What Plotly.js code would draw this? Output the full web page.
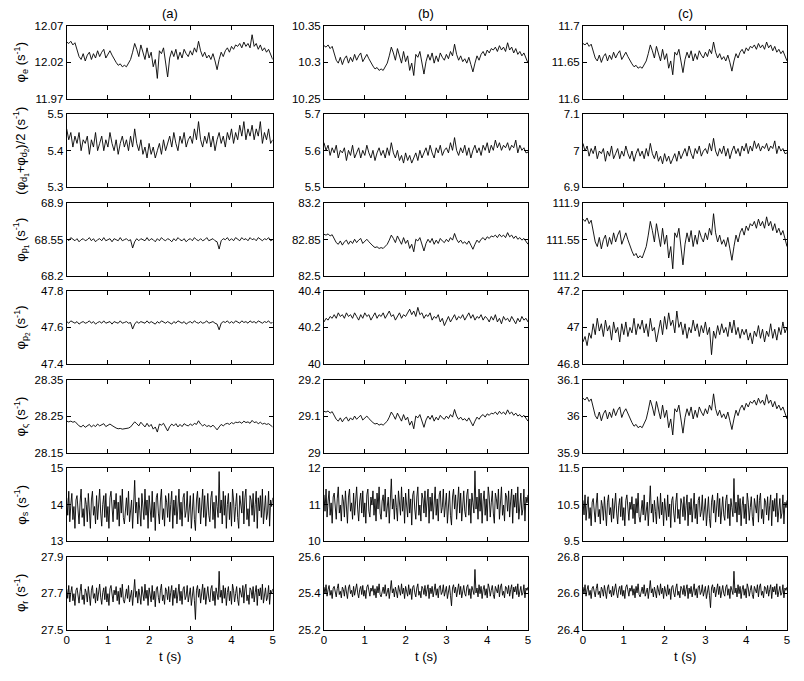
<!DOCTYPE html>
<html><head><meta charset="utf-8">
<script src="https://cdn.plot.ly/plotly-3.0.1.min.js"></script>
<style>html,body{margin:0;padding:0;background:#fff;}#chart{width:804px;height:681px;}</style>
</head><body><div id="chart"></div>
<script>
const xTickVals = [0,1,2,3,4,5];
const columnTitles = ['(a)','(b)','(c)'];
const rowLabels = [
  'φ<sub>e</sub> (s<sup>-1</sup>)',
  '(φ<sub>d<sub>1</sub></sub>+φ<sub>d<sub>2</sub></sub>)/2 (s<sup>-1</sup>)',
  'φ<sub>p<sub>1</sub></sub> (s<sup>-1</sup>)',
  'φ<sub>p<sub>2</sub></sub> (s<sup>-1</sup>)',
  'φ<sub>ς</sub> (s<sup>-1</sup>)',
  'φ<sub>s</sub> (s<sup>-1</sup>)',
  'φ<sub>r</sub> (s<sup>-1</sup>)'
];
const yTickLabels = [
  [['11.97','12.02','12.07'],['10.25','10.3','10.35'],['11.6','11.65','11.7']],
  [['5.3','5.4','5.5'],['5.5','5.6','5.7'],['6.9','7','7.1']],
  [['68.2','68.55','68.9'],['82.5','82.85','83.2'],['111.2','111.55','111.9']],
  [['47.4','47.6','47.8'],['40','40.2','40.4'],['46.8','47','47.2']],
  [['28.15','28.25','28.35'],['29','29.1','29.2'],['35.9','36','36.1']],
  [['13','14','15'],['10','11','12'],['9.5','10.5','11.5']],
  [['27.5','27.7','27.9'],['25.2','25.4','25.6'],['26.4','26.6','26.8']]
];

const phiE_a = [12.048,12.046,12.049,12.044,12.047,12.036,12.028,12.024,12.032,12.022,
12.030,12.034,12.024,12.032,12.026,12.036,12.028,12.034,12.038,12.026,
12.032,12.036,12.030,12.024,12.020,12.016,12.018,12.014,12.016,12.014,
12.020,12.024,12.034,12.046,12.038,12.028,12.044,12.032,12.024,12.040,
12.026,12.034,12.014,12.024,11.998,12.036,12.032,12.040,12.022,12.000,
12.026,12.036,12.028,12.038,12.024,12.034,12.026,12.038,12.032,12.028,
12.036,12.030,12.040,12.034,12.049,12.036,12.028,12.034,12.026,12.030,
12.024,12.032,12.022,12.010,12.024,12.034,12.028,12.036,12.040,12.034,
12.042,12.038,12.044,12.042,12.046,12.040,12.048,12.042,12.046,12.040,
12.058,12.042,12.046,12.038,12.044,12.036,12.040,12.034,12.038,12.030,12.024];
const phiE_b = [10.323,10.321,10.324,10.319,10.322,10.311,10.303,10.299,10.307,10.297,
10.305,10.309,10.299,10.307,10.301,10.311,10.303,10.309,10.313,10.301,
10.307,10.311,10.305,10.299,10.295,10.291,10.293,10.289,10.291,10.289,
10.295,10.299,10.309,10.321,10.313,10.303,10.319,10.307,10.299,10.315,
10.301,10.309,10.289,10.299,10.282,10.311,10.307,10.315,10.297,10.284,
10.301,10.311,10.303,10.313,10.299,10.309,10.301,10.313,10.307,10.303,
10.311,10.305,10.315,10.309,10.325,10.311,10.303,10.309,10.301,10.305,
10.299,10.307,10.297,10.287,10.299,10.309,10.303,10.311,10.315,10.309,
10.317,10.313,10.319,10.317,10.321,10.315,10.323,10.317,10.321,10.315,
10.327,10.317,10.321,10.313,10.319,10.311,10.315,10.309,10.313,10.305,10.299];
const phiE_c = [11.676,11.674,11.677,11.672,11.675,11.664,11.656,11.652,11.660,11.650,
11.658,11.662,11.652,11.660,11.654,11.664,11.656,11.662,11.666,11.654,
11.660,11.664,11.658,11.652,11.648,11.644,11.646,11.642,11.644,11.642,
11.648,11.652,11.662,11.674,11.666,11.656,11.672,11.660,11.652,11.668,
11.654,11.662,11.642,11.652,11.633,11.664,11.660,11.668,11.650,11.636,
11.654,11.664,11.656,11.666,11.652,11.662,11.654,11.666,11.660,11.656,
11.664,11.658,11.668,11.662,11.678,11.664,11.656,11.662,11.654,11.658,
11.652,11.660,11.650,11.638,11.652,11.662,11.656,11.664,11.668,11.662,
11.670,11.666,11.672,11.670,11.674,11.668,11.676,11.670,11.674,11.668,
11.678,11.670,11.674,11.666,11.672,11.664,11.668,11.662,11.666,11.658,11.652];

const phiD_a = [5.46,5.43,5.45,5.41,5.44,5.42,5.45,5.40,5.43,5.42,
5.44,5.39,5.43,5.41,5.45,5.40,5.42,5.44,5.40,5.43,
5.41,5.45,5.42,5.40,5.43,5.39,5.42,5.44,5.41,5.43,
5.40,5.44,5.41,5.46,5.42,5.40,5.43,5.39,5.41,5.38,
5.42,5.39,5.41,5.38,5.40,5.42,5.39,5.43,5.40,5.42,
5.44,5.41,5.45,5.42,5.40,5.44,5.42,5.45,5.41,5.43,
5.44,5.42,5.46,5.43,5.48,5.43,5.41,5.44,5.42,5.45,
5.41,5.44,5.40,5.43,5.45,5.42,5.44,5.41,5.45,5.43,
5.46,5.42,5.45,5.43,5.47,5.44,5.48,5.43,5.46,5.44,
5.47,5.43,5.46,5.44,5.48,5.42,5.45,5.43,5.46,5.42,5.43];
const phiD_b = [5.622,5.601,5.615,5.587,5.608,5.594,5.615,5.580,5.601,5.594,
5.608,5.573,5.601,5.587,5.615,5.580,5.594,5.608,5.580,5.601,
5.587,5.615,5.594,5.580,5.601,5.573,5.594,5.608,5.587,5.601,
5.580,5.608,5.587,5.622,5.594,5.580,5.601,5.573,5.587,5.566,
5.594,5.573,5.587,5.566,5.580,5.594,5.573,5.601,5.580,5.594,
5.608,5.587,5.615,5.594,5.580,5.608,5.594,5.615,5.587,5.601,
5.608,5.594,5.622,5.601,5.636,5.601,5.587,5.608,5.594,5.615,
5.587,5.608,5.580,5.601,5.615,5.594,5.608,5.587,5.615,5.601,
5.622,5.594,5.615,5.601,5.629,5.608,5.622,5.601,5.615,5.608,
5.622,5.601,5.615,5.608,5.629,5.594,5.615,5.601,5.608,5.594,5.596];
const phiD_c = [7.020,6.999,7.013,6.985,7.006,6.992,7.013,6.978,6.999,6.992,
7.006,6.971,6.999,6.985,7.013,6.978,6.992,7.006,6.978,6.999,
6.985,7.013,6.992,6.978,6.999,6.971,6.992,7.006,6.985,6.999,
6.978,7.006,6.985,7.020,6.992,6.978,6.999,6.971,6.985,6.964,
6.992,6.971,6.985,6.964,6.978,6.992,6.971,6.999,6.978,6.992,
7.006,6.985,7.013,6.992,6.978,7.006,6.992,7.013,6.985,6.999,
7.006,6.992,7.020,6.999,7.034,6.999,6.985,7.006,6.992,7.013,
6.985,7.006,6.978,6.999,7.013,6.992,7.006,6.985,7.013,6.999,
7.020,6.992,7.013,6.999,7.027,7.006,7.020,6.999,7.013,7.006,
7.020,6.999,7.013,7.006,7.027,6.992,7.013,6.999,7.006,6.992,6.994];

const phiP1_a = [68.56,68.54,68.57,68.55,68.54,68.56,68.53,68.55,68.56,68.54,
68.55,68.57,68.54,68.56,68.53,68.55,68.56,68.54,68.57,68.54,
68.55,68.56,68.53,68.56,68.55,68.54,68.57,68.54,68.55,68.56,
68.54,68.55,68.47,68.53,68.56,68.54,68.56,68.55,68.54,68.57,
68.54,68.56,68.55,68.53,68.56,68.54,68.57,68.55,68.54,68.56,
68.55,68.53,68.56,68.54,68.57,68.55,68.54,68.56,68.53,68.55,
68.56,68.54,68.57,68.55,68.54,68.56,68.54,68.55,68.57,68.54,
68.55,68.56,68.54,68.53,68.46,68.54,68.56,68.55,68.57,68.54,
68.56,68.54,68.57,68.55,68.54,68.57,68.55,68.56,68.54,68.57,
68.55,68.56,68.54,68.57,68.55,68.54,68.56,68.55,68.57,68.54,68.55];
const phiP1_b = [82.902,82.894,82.906,82.886,82.898,82.854,82.822,82.806,82.838,82.798,
82.830,82.846,82.806,82.838,82.814,82.854,82.822,82.846,82.862,82.814,
82.838,82.854,82.830,82.806,82.790,82.774,82.782,82.766,82.774,82.766,
82.790,82.806,82.846,82.894,82.862,82.822,82.886,82.838,82.806,82.870,
82.814,82.846,82.766,82.806,82.734,82.854,82.838,82.870,82.798,82.742,
82.814,82.854,82.822,82.862,82.806,82.846,82.814,82.862,82.838,82.822,
82.854,82.830,82.870,82.846,82.910,82.854,82.822,82.846,82.814,82.830,
82.806,82.838,82.798,82.758,82.806,82.846,82.822,82.854,82.870,82.846,
82.878,82.862,82.886,82.878,82.894,82.870,82.902,82.878,82.894,82.870,
82.918,82.878,82.894,82.862,82.886,82.854,82.870,82.846,82.862,82.830,82.806];
const phiP1_c = [111.748,111.726,111.759,111.704,111.737,111.616,111.528,111.484,111.572,111.462,
111.550,111.594,111.484,111.572,111.506,111.616,111.528,111.594,111.638,111.506,
111.572,111.616,111.550,111.484,111.440,111.396,111.418,111.374,111.396,111.374,
111.440,111.484,111.594,111.726,111.638,111.528,111.704,111.572,111.484,111.660,
111.506,111.594,111.374,111.484,111.270,111.616,111.572,111.660,111.462,111.308,
111.506,111.616,111.528,111.638,111.484,111.594,111.506,111.638,111.572,111.528,
111.616,111.550,111.660,111.594,111.800,111.616,111.528,111.594,111.506,111.550,
111.484,111.572,111.462,111.352,111.484,111.594,111.528,111.616,111.660,111.594,
111.682,111.638,111.704,111.682,111.726,111.660,111.748,111.682,111.726,111.660,
111.770,111.682,111.726,111.638,111.704,111.616,111.660,111.594,111.638,111.550,111.484];

const phiP2_a = [47.632,47.623,47.636,47.627,47.623,47.632,47.618,47.627,47.632,47.623,
47.627,47.636,47.623,47.632,47.618,47.627,47.632,47.623,47.636,47.623,
47.627,47.632,47.618,47.632,47.627,47.623,47.636,47.623,47.627,47.632,
47.623,47.627,47.591,47.618,47.632,47.623,47.632,47.627,47.623,47.636,
47.623,47.632,47.627,47.618,47.632,47.623,47.636,47.627,47.623,47.632,
47.627,47.618,47.632,47.623,47.636,47.627,47.623,47.632,47.618,47.627,
47.632,47.623,47.636,47.627,47.623,47.632,47.623,47.627,47.636,47.623,
47.627,47.632,47.623,47.618,47.587,47.623,47.632,47.627,47.636,47.623,
47.632,47.623,47.636,47.627,47.623,47.636,47.627,47.632,47.623,47.636,
47.627,47.632,47.623,47.636,47.627,47.623,47.632,47.627,47.636,47.623,47.627];
const phiP2_b = [40.23,40.25,40.24,40.26,40.25,40.27,40.25,40.28,40.26,40.27,
40.25,40.28,40.26,40.27,40.25,40.28,40.26,40.24,40.27,40.25,
40.28,40.26,40.27,40.24,40.26,40.28,40.25,40.27,40.26,40.28,
40.25,40.27,40.29,40.26,40.27,40.24,40.26,40.28,40.25,40.27,
40.26,40.28,40.30,40.27,40.29,40.26,40.31,40.27,40.28,40.25,
40.27,40.26,40.28,40.24,40.26,40.25,40.27,40.23,40.25,40.21,
40.24,40.26,40.23,40.25,40.27,40.24,40.26,40.25,40.27,40.24,
40.26,40.28,40.25,40.27,40.24,40.26,40.25,40.27,40.24,40.26,
40.25,40.23,40.26,40.24,40.27,40.23,40.25,40.22,40.26,40.24,
40.25,40.23,40.26,40.24,40.22,40.25,40.23,40.26,40.24,40.25,40.23];
const phiP2_c = [46.92,46.95,46.90,46.97,46.94,47.02,46.96,47.05,46.98,47.02,
46.95,47.04,46.98,47.01,46.93,47.03,46.97,47.00,46.92,47.02,
46.96,47.03,46.95,47.00,46.97,47.05,46.96,47.02,46.99,47.04,
46.97,47.02,46.95,47.05,46.98,47.00,46.92,46.99,47.04,46.96,
47.06,46.99,47.08,47.01,47.04,46.97,47.09,47.00,47.03,46.96,
47.02,46.94,47.00,46.97,47.04,46.98,47.02,46.95,47.01,46.97,
47.03,46.96,47.00,46.85,46.98,46.94,47.01,46.96,47.02,46.97,
47.00,46.95,47.03,46.97,47.04,46.96,47.00,46.94,46.99,46.96,
46.99,46.93,46.97,46.91,46.98,46.95,47.01,46.94,46.99,46.92,
46.98,46.95,47.02,46.94,46.99,46.93,47.00,46.96,47.03,46.97,47.00];

const phiSig_a = [28.237,28.235,28.237,28.234,28.236,28.229,28.224,28.221,28.226,28.220,
28.225,28.228,28.221,28.226,28.222,28.229,28.224,28.228,28.230,28.222,
28.226,28.229,28.225,28.221,28.218,28.216,28.217,28.215,28.216,28.215,
28.218,28.221,28.228,28.235,28.230,28.224,28.234,28.226,28.221,28.231,
28.222,28.228,28.215,28.221,28.207,28.229,28.226,28.231,28.220,28.210,
28.222,28.229,28.224,28.230,28.221,28.228,28.222,28.230,28.226,28.224,
28.229,28.225,28.231,28.228,28.238,28.229,28.224,28.228,28.222,28.225,
28.221,28.226,28.220,28.213,28.221,28.228,28.224,28.229,28.231,28.228,
28.233,28.230,28.234,28.233,28.235,28.231,28.237,28.233,28.235,28.231,
28.239,28.233,28.235,28.230,28.234,28.229,28.231,28.228,28.230,28.225,28.221];
const phiSig_b = [29.114,29.112,29.115,29.109,29.113,29.101,29.092,29.087,29.096,29.085,
29.094,29.098,29.087,29.096,29.090,29.101,29.092,29.098,29.103,29.090,
29.096,29.101,29.094,29.087,29.083,29.079,29.081,29.076,29.079,29.076,
29.083,29.087,29.098,29.112,29.103,29.092,29.109,29.096,29.087,29.105,
29.090,29.098,29.076,29.087,29.066,29.101,29.096,29.105,29.085,29.070,
29.090,29.101,29.092,29.103,29.087,29.098,29.090,29.103,29.096,29.092,
29.101,29.094,29.105,29.098,29.119,29.101,29.092,29.098,29.090,29.094,
29.087,29.096,29.085,29.074,29.087,29.098,29.092,29.101,29.105,29.098,
29.107,29.103,29.109,29.107,29.112,29.105,29.114,29.107,29.112,29.105,
29.118,29.107,29.112,29.103,29.109,29.101,29.105,29.098,29.103,29.094,29.087];
const phiSig_c = [36.050,36.045,36.053,36.041,36.048,36.021,36.002,35.993,36.012,35.988,
36.007,36.017,35.993,36.012,35.997,36.021,36.002,36.017,36.026,35.997,
36.012,36.021,36.007,35.993,35.983,35.973,35.978,35.969,35.973,35.969,
35.983,35.993,36.017,36.045,36.026,36.002,36.041,36.012,35.993,36.031,
35.997,36.017,35.969,35.993,35.949,36.021,36.012,36.031,35.988,35.954,
35.997,36.021,36.002,36.026,35.993,36.017,35.997,36.026,36.012,36.002,
36.021,36.007,36.031,36.017,36.062,36.021,36.002,36.017,35.997,36.007,
35.993,36.012,35.988,35.964,35.993,36.017,36.002,36.021,36.031,36.017,
36.036,36.026,36.041,36.036,36.045,36.031,36.050,36.036,36.045,36.031,
36.060,36.036,36.045,36.026,36.041,36.021,36.031,36.017,36.026,36.007,35.993];

const phiS_a = [14.19,13.71,14.37,13.53,14.01,14.31,13.59,13.95,13.35,14.13,14.25,13.77,13.47,14.07,14.43,13.65,13.89,13.41,14.19,14.01,
13.53,14.31,13.83,13.35,14.13,14.37,13.71,13.95,13.47,14.25,13.59,14.07,14.43,13.77,13.41,14.01,14.25,13.65,14.31,13.53,
13.95,13.35,14.19,14.37,13.71,13.53,14.13,13.89,14.31,13.59,14.07,13.41,14.25,13.77,14.43,13.65,13.47,14.01,14.19,13.71,
14.37,13.53,13.95,14.13,13.35,14.25,14.67,13.77,14.07,13.47,14.19,13.83,13.41,14.31,14.01,13.59,14.43,13.71,14.13,13.35,
14.25,13.95,13.53,14.37,13.65,14.07,13.29,14.19,14.31,13.77,13.47,14.13,14.43,13.59,13.89,13.41,14.25,14.07,13.65,14.31,
13.53,14.01,14.37,13.35,14.13,13.71,14.25,13.47,13.95,14.43,13.59,14.07,13.41,14.19,14.31,13.65,13.83,14.37,13.53,14.01,
14.25,13.35,14.07,14.31,13.59,13.29,14.13,14.37,13.77,14.19,13.47,13.95,14.43,13.65,14.25,13.41,14.01,14.31,13.71,13.53,
14.19,14.37,13.59,14.07,13.35,14.25,13.95,13.65,14.91,13.77,14.13,13.47,14.37,13.71,14.25,13.35,14.01,14.31,13.59,14.07,
13.41,14.43,14.13,13.53,13.95,14.31,13.65,13.35,14.25,14.07,13.77,14.37,13.47,14.19,14.43,13.59,13.89,13.41,14.25,14.13,
13.71,14.31,13.53,14.01,14.37,13.35,14.19,13.83,14.25,13.65,14.43,13.47,14.07,14.25,13.59,13.77,14.37,13.41,14.13,13.95,14.19];
const phiS_b = [11.27,10.82,11.43,10.66,11.10,11.38,10.71,11.05,10.49,11.21,11.32,10.88,10.60,11.16,11.49,10.77,10.99,10.55,11.27,11.10,
10.66,11.38,10.93,10.49,11.21,11.43,10.82,11.05,10.60,11.32,10.71,11.16,11.49,10.88,10.55,11.10,11.32,10.77,11.38,10.66,
11.05,10.49,11.27,11.43,10.82,10.66,11.21,10.99,11.38,10.71,11.16,10.55,11.32,10.88,11.49,10.77,10.60,11.10,11.27,10.82,
11.43,10.66,11.05,11.21,10.49,11.32,11.71,10.88,11.16,10.60,11.27,10.93,10.55,11.38,11.10,10.71,11.49,10.82,11.21,10.49,
11.32,11.05,10.66,11.43,10.77,11.16,10.44,11.27,11.38,10.88,10.60,11.21,11.49,10.71,10.99,10.55,11.32,11.16,10.77,11.38,
10.66,11.10,11.43,10.49,11.21,10.82,11.32,10.60,11.05,11.49,10.71,11.16,10.55,11.27,11.38,10.77,10.93,11.43,10.66,11.10,
11.32,10.49,11.16,11.38,10.71,10.44,11.21,11.43,10.88,11.27,10.60,11.05,11.49,10.77,11.32,10.55,11.10,11.38,10.82,10.66,
11.27,11.43,10.71,11.16,10.49,11.32,11.05,10.77,11.93,10.88,11.21,10.60,11.43,10.82,11.32,10.49,11.10,11.38,10.71,11.16,
10.55,11.49,11.21,10.66,11.05,11.38,10.77,10.49,11.32,11.16,10.88,11.43,10.60,11.27,11.49,10.71,10.99,10.55,11.32,11.21,
10.82,11.38,10.66,11.10,11.43,10.49,11.27,10.93,11.32,10.77,11.49,10.60,11.16,11.32,10.71,10.88,11.43,10.55,11.21,11.05,11.27];
const phiS_c = [10.62,10.22,10.77,10.07,10.47,10.72,10.12,10.42,9.92,10.57,10.67,10.27,10.02,10.52,10.82,10.17,10.37,9.97,10.62,10.47,
10.07,10.72,10.32,9.92,10.57,10.77,10.22,10.42,10.02,10.67,10.12,10.52,10.82,10.27,9.97,10.47,10.67,10.17,10.72,10.07,
10.42,9.92,10.62,10.77,10.22,10.07,10.57,10.37,10.72,10.12,10.52,9.97,10.67,10.27,10.82,10.17,10.02,10.47,10.62,10.22,
10.77,10.07,10.42,10.57,9.92,10.67,11.02,10.27,10.52,10.02,10.62,10.32,9.97,10.72,10.47,10.12,10.82,10.22,10.57,9.92,
10.67,10.42,10.07,10.77,10.17,10.52,9.87,10.62,10.72,10.27,10.02,10.57,10.82,10.12,10.37,9.97,10.67,10.52,10.17,10.72,
10.07,10.47,10.77,9.92,10.57,10.22,10.67,10.02,10.42,10.82,10.12,10.52,9.97,10.62,10.72,10.17,10.32,10.77,10.07,10.47,
10.67,9.92,10.52,10.72,10.12,9.87,10.57,10.77,10.27,10.62,10.02,10.42,10.82,10.17,10.67,9.97,10.47,10.72,10.22,10.07,
10.62,10.77,10.12,10.52,9.92,10.67,10.42,10.17,11.22,10.27,10.57,10.02,10.77,10.22,10.67,9.92,10.47,10.72,10.12,10.52,
9.97,10.82,10.57,10.07,10.42,10.72,10.17,9.92,10.67,10.52,10.27,10.77,10.02,10.62,10.82,10.12,10.37,9.97,10.67,10.57,
10.22,10.72,10.07,10.47,10.77,9.92,10.62,10.32,10.67,10.17,10.82,10.02,10.52,10.67,10.12,10.27,10.77,9.97,10.57,10.42,10.62];

const phiR_a = [27.723,27.671,27.742,27.651,27.703,27.736,27.658,27.697,27.632,27.716,27.729,27.677,27.645,27.710,27.749,27.664,27.690,27.638,27.723,27.703,
27.651,27.736,27.684,27.632,27.716,27.742,27.671,27.697,27.645,27.729,27.658,27.710,27.749,27.677,27.638,27.703,27.729,27.664,27.736,27.651,
27.697,27.632,27.723,27.742,27.671,27.651,27.716,27.690,27.736,27.658,27.710,27.638,27.729,27.677,27.749,27.664,27.645,27.703,27.723,27.671,
27.742,27.651,27.697,27.716,27.632,27.729,27.775,27.677,27.710,27.645,27.723,27.684,27.638,27.736,27.703,27.658,27.749,27.671,27.716,27.632,
27.729,27.697,27.651,27.742,27.664,27.710,27.625,27.723,27.736,27.677,27.645,27.716,27.749,27.658,27.690,27.638,27.729,27.710,27.664,27.736,
27.651,27.703,27.742,27.632,27.716,27.671,27.729,27.645,27.697,27.749,27.658,27.710,27.638,27.723,27.736,27.664,27.684,27.742,27.651,27.703,
27.729,27.632,27.710,27.736,27.658,27.555,27.716,27.742,27.677,27.723,27.645,27.697,27.749,27.664,27.729,27.638,27.703,27.736,27.671,27.651,
27.723,27.742,27.658,27.710,27.632,27.729,27.697,27.664,27.820,27.677,27.716,27.645,27.742,27.671,27.729,27.632,27.703,27.736,27.658,27.710,
27.638,27.749,27.716,27.651,27.697,27.736,27.664,27.632,27.729,27.710,27.677,27.742,27.645,27.723,27.749,27.658,27.690,27.638,27.729,27.716,
27.671,27.736,27.651,27.703,27.742,27.632,27.723,27.684,27.729,27.664,27.749,27.645,27.710,27.729,27.658,27.677,27.742,27.638,27.716,27.697,27.723];
const phiR_b = [25.433,25.397,25.446,25.383,25.419,25.442,25.388,25.415,25.370,25.428,25.437,25.401,25.379,25.424,25.451,25.392,25.410,25.374,25.433,25.419,
25.383,25.442,25.406,25.370,25.428,25.446,25.397,25.415,25.379,25.437,25.388,25.424,25.451,25.401,25.374,25.419,25.437,25.392,25.442,25.383,
25.415,25.370,25.433,25.446,25.397,25.383,25.428,25.410,25.442,25.388,25.424,25.374,25.437,25.401,25.451,25.392,25.379,25.419,25.433,25.397,
25.446,25.383,25.415,25.428,25.370,25.437,25.469,25.401,25.424,25.379,25.433,25.406,25.374,25.442,25.419,25.388,25.451,25.397,25.428,25.370,
25.437,25.415,25.383,25.446,25.392,25.424,25.365,25.433,25.442,25.401,25.379,25.428,25.451,25.388,25.410,25.374,25.437,25.424,25.392,25.442,
25.383,25.419,25.446,25.370,25.428,25.397,25.437,25.379,25.415,25.451,25.388,25.424,25.374,25.433,25.442,25.392,25.406,25.446,25.383,25.419,
25.437,25.370,25.424,25.442,25.388,25.330,25.428,25.446,25.401,25.433,25.379,25.415,25.451,25.392,25.437,25.374,25.419,25.442,25.397,25.383,
25.433,25.446,25.388,25.424,25.370,25.437,25.415,25.392,25.530,25.401,25.428,25.379,25.446,25.397,25.437,25.370,25.419,25.442,25.388,25.424,
25.374,25.451,25.428,25.383,25.415,25.442,25.392,25.370,25.437,25.424,25.401,25.446,25.379,25.433,25.451,25.388,25.410,25.374,25.437,25.428,
25.397,25.442,25.383,25.419,25.446,25.370,25.433,25.406,25.437,25.392,25.451,25.379,25.424,25.437,25.388,25.401,25.446,25.374,25.428,25.415,25.433];
const phiR_c = [26.633,26.597,26.646,26.583,26.619,26.642,26.588,26.615,26.570,26.628,26.637,26.601,26.579,26.624,26.651,26.592,26.610,26.574,26.633,26.619,
26.583,26.642,26.606,26.570,26.628,26.646,26.597,26.615,26.579,26.637,26.588,26.624,26.651,26.601,26.574,26.619,26.637,26.592,26.642,26.583,
26.615,26.570,26.633,26.646,26.597,26.583,26.628,26.610,26.642,26.588,26.624,26.574,26.637,26.601,26.651,26.592,26.579,26.619,26.633,26.597,
26.646,26.583,26.615,26.628,26.570,26.637,26.669,26.601,26.624,26.579,26.633,26.606,26.574,26.642,26.619,26.588,26.651,26.597,26.628,26.570,
26.637,26.615,26.583,26.646,26.592,26.624,26.565,26.633,26.642,26.601,26.579,26.628,26.651,26.588,26.610,26.574,26.637,26.624,26.592,26.642,
26.583,26.619,26.646,26.570,26.628,26.597,26.637,26.579,26.615,26.651,26.588,26.624,26.574,26.633,26.642,26.592,26.606,26.646,26.583,26.619,
26.637,26.570,26.624,26.642,26.588,26.520,26.628,26.646,26.601,26.633,26.579,26.615,26.651,26.592,26.637,26.574,26.619,26.642,26.597,26.583,
26.633,26.646,26.588,26.624,26.570,26.637,26.615,26.592,26.720,26.601,26.628,26.579,26.646,26.597,26.637,26.570,26.619,26.642,26.588,26.624,
26.574,26.651,26.628,26.583,26.615,26.642,26.592,26.570,26.637,26.624,26.601,26.646,26.579,26.633,26.651,26.588,26.610,26.574,26.637,26.628,
26.597,26.642,26.583,26.619,26.646,26.570,26.633,26.606,26.637,26.592,26.651,26.579,26.624,26.637,26.588,26.601,26.646,26.574,26.628,26.615,26.633];

const panelSeries = [
  [phiE_a, phiE_b, phiE_c],
  [phiD_a, phiD_b, phiD_c],
  [phiP1_a, phiP1_b, phiP1_c],
  [phiP2_a, phiP2_b, phiP2_c],
  [phiSig_a, phiSig_b, phiSig_c],
  [phiS_a, phiS_b, phiS_c],
  [phiR_a, phiR_b, phiR_c]
];

// ---- layout geometry (pixels) ----
const W = 804, H = 681;
const colPx = [[66.7,272.7],[324,528],[583,787]];
const rowTopPx = [26,114.3,203.3,291,380,468.3,556.7];
const rowH = 72.8;
const font = 'Liberation Sans, Arial, Helvetica, sans-serif';

const timeAxis = n => Array.from({length: n}, (_, i) => i * 5 / (n - 1));
const traces = [];
const layout = {
  width: W, height: H,
  margin: {l:0, r:0, t:0, b:0},
  paper_bgcolor: '#fff', plot_bgcolor: '#fff',
  showlegend: false,
  font: {family: font, size: 12, color: '#000'},
  annotations: []
};

for (let r = 0; r < 7; r++) {
  for (let c = 0; c < 3; c++) {
    const k = r * 3 + c + 1;
    const sfx = k === 1 ? '' : String(k);
    const ys = panelSeries[r][c];
    traces.push({
      x: timeAxis(ys.length), y: ys, type: 'scatter', mode: 'lines',
      line: {color: '#000', width: 0.9},
      xaxis: 'x' + sfx, yaxis: 'y' + sfx, hoverinfo: 'skip'
    });
    const lbl = yTickLabels[r][c];
    const vals = lbl.map(Number);
    const common = {
      ticks: 'inside', ticklen: 4, tickwidth: 1, tickcolor: '#000',
      showline: true, mirror: 'ticks', linecolor: '#000', linewidth: 1,
      showgrid: false, zeroline: false,
      tickfont: {family: font, size: 11.5, color: '#000'}, fixedrange: true
    };
    layout['xaxis' + sfx] = Object.assign({}, common, {
      domain: [colPx[c][0] / W, colPx[c][1] / W],
      anchor: 'y' + sfx, range: [0, 5],
      tickmode: 'array', tickvals: xTickVals, ticktext: xTickVals.map(String),
      showticklabels: r === 6
    });
    layout['yaxis' + sfx] = Object.assign({}, common, {
      domain: [1 - (rowTopPx[r] + rowH) / H, 1 - rowTopPx[r] / H],
      anchor: 'x' + sfx, range: [vals[0], vals[2]],
      tickmode: 'array', tickvals: vals, ticktext: lbl
    });
  }
  layout.annotations.push({
    xref: 'paper', yref: 'paper', x: 21 / W, y: 1 - (rowTopPx[r] + rowH / 2) / H,
    xanchor: 'center', yanchor: 'middle', textangle: -90, showarrow: false,
    text: rowLabels[r], font: {family: font, size: 13, color: '#000'}
  });
}
for (let c = 0; c < 3; c++) {
  const cx = (colPx[c][0] + colPx[c][1]) / 2 / W;
  layout.annotations.push({
    xref: 'paper', yref: 'paper', x: cx, y: 1 - 13 / H,
    xanchor: 'center', yanchor: 'middle', showarrow: false,
    text: columnTitles[c], font: {family: font, size: 13, color: '#000'}
  });
  layout.annotations.push({
    xref: 'paper', yref: 'paper', x: cx, y: 1 - 656 / H,
    xanchor: 'center', yanchor: 'middle', showarrow: false,
    text: 't (s)', font: {family: font, size: 13, color: '#000'}
  });
}

Plotly.newPlot('chart', traces, layout, {staticPlot: true, displayModeBar: false});
</script>
</body></html>
